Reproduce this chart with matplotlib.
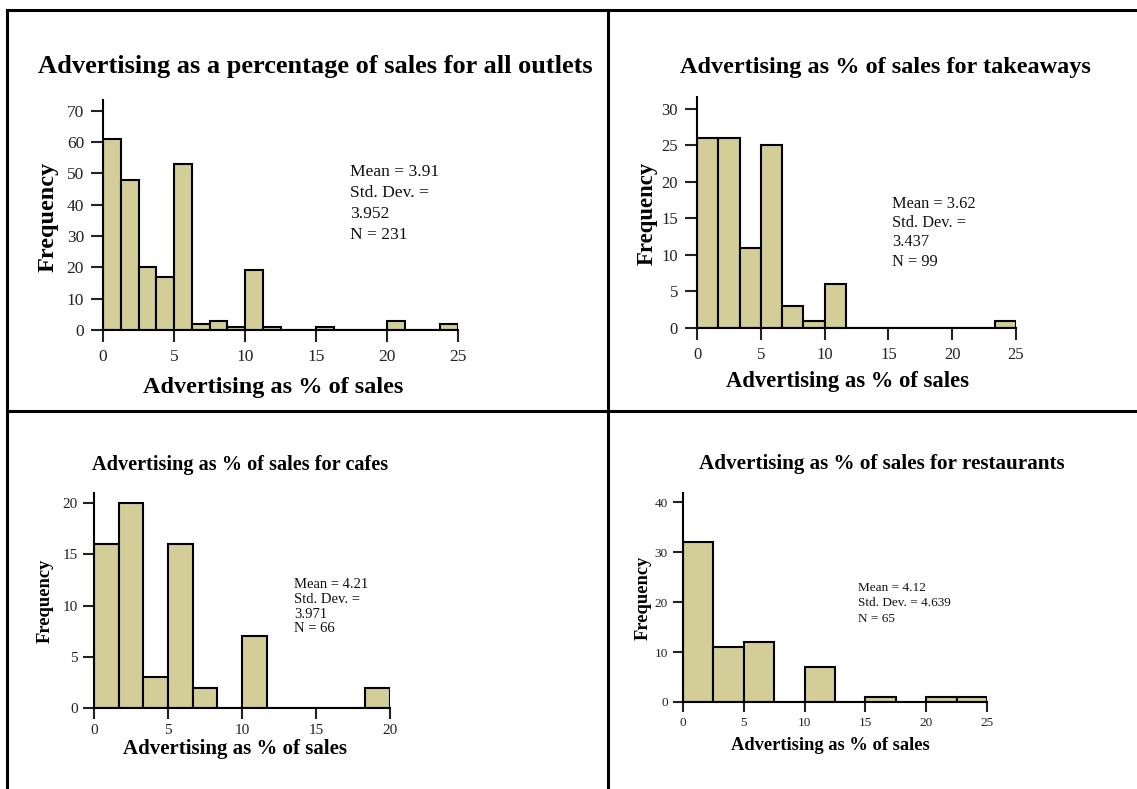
import matplotlib
matplotlib.use("Agg")
import matplotlib.pyplot as plt
import numpy as np

plt.rcParams['font.family'] = ['Liberation Serif', 'DejaVu Serif']

# bin counts
all_counts = [61, 48, 20, 17, 53, 2, 3, 1, 19, 1, 0, 0, 1, 0, 0, 0, 3, 0, 0, 2]
takeaway_counts = [26, 26, 11, 25, 3, 1, 6, 0, 0, 0, 0, 0, 0, 0, 1]
cafe_counts = [16, 20, 3, 16, 2, 0, 7, 0, 0, 0, 0, 2]
restaurant_counts = [32, 11, 12, 0, 7, 0, 1, 0, 1, 1]

x_max = [25, 25, 20, 25]
y_ticks = [[0, 10, 20, 30, 40, 50, 60, 70], [0, 5, 10, 15, 20, 25, 30],
           [0, 5, 10, 15, 20], [0, 10, 20, 30, 40]]
y_top = [73.4, 31.6, 21.0, 41.9]

titles = ["Advertising as a percentage of sales for all outlets",
          "Advertising as % of sales for takeaways",
          "Advertising as % of sales for cafes",
          "Advertising as % of sales for restaurants"]
stats = ["Mean = 3.91\nStd. Dev. =\n3.952\nN = 231",
         "Mean = 3.62\nStd. Dev. =\n3.437\nN = 99",
         "Mean = 4.21\nStd. Dev. =\n3.971\nN = 66",
         "Mean = 4.12\nStd. Dev. = 4.639\nN = 65"]

W, H = 1137, 789
fig = plt.figure(figsize=(W / 100, H / 100), dpi=100)


def fx(x):
    return x / W


def fy(y):
    return 1 - y / H


# panel layout in pixels: left, right, bottom, top
boxes = [(103, 458, 330, 100), (697, 1016, 328, 97),
         (94, 390, 708, 493), (683, 987, 702, 493)]
title_pos = [(315, 67, 19), (885, 67, 17.5), (240, 465, 14.6), (882, 464, 15.2)]
xlab_pos = [(273, 387, 17.5), (848, 381, 16.3), (235, 749, 15), (830, 745, 13.3)]
ylab_pos = [(48, 217, 17.5), (647, 213, 16.4), (45, 601, 13.3), (643, 598, 13.3)]
stat_pos = [(350, 164, 12.6, 1.42), (892, 196, 11.8, 1.27),
            (294, 578, 10.5, 1.18), (858, 582, 9.5, 1.38)]
tick_size = [12.5, 12, 11, 9.5]
tick_len = [8.6, 8.6, 7.7, 7]
tick_pad = [5, 5, 4, 4]

all_data = [all_counts, takeaway_counts, cafe_counts, restaurant_counts]

for i, counts in enumerate(all_data):
    l, r, b, t = boxes[i]
    ax = fig.add_axes([fx(l), fy(b), fx(r - l), fy(t) - fy(b)])
    edges = np.linspace(0, x_max[i], len(counts) + 1)
    ax.bar(edges[:-1], counts, width=np.diff(edges), align='edge',
           color='#d3ce98', edgecolor='black', linewidth=1.5, zorder=2)
    ax.set_xlim(0, x_max[i])
    ax.set_ylim(0, y_top[i])
    ax.set_xticks(np.arange(0, x_max[i] + 1, 5))
    ax.set_yticks(y_ticks[i])
    for s in ['top', 'right']:
        ax.spines[s].set_visible(False)
    for s in ['left', 'bottom']:
        ax.spines[s].set_linewidth(1.5)
    ax.tick_params(direction='out', length=tick_len[i], width=1.5,
                   labelsize=tick_size[i], colors='#222222', pad=tick_pad[i])
    ax.patch.set_alpha(0)

    x, y, s = title_pos[i]
    fig.text(fx(x), fy(y), titles[i], ha='center', va='center',
             fontsize=s, fontweight='bold')
    x, y, s = xlab_pos[i]
    fig.text(fx(x), fy(y), "Advertising as % of sales", ha='center',
             va='center', fontsize=s, fontweight='bold')
    x, y, s = ylab_pos[i]
    fig.text(fx(x), fy(y), "Frequency", ha='center', va='center',
             rotation=90, fontsize=s, fontweight='bold')
    x, y, s, ls = stat_pos[i]
    fig.text(fx(x), fy(y), stats[i], ha='left', va='top', fontsize=s,
             linespacing=ls, color='#111111')

# table-like frame around the panels
frame = dict(color='black', linewidth=2.2, transform=fig.transFigure)
fig.add_artist(plt.Line2D([fx(7), 1], [fy(10), fy(10)], **frame))
fig.add_artist(plt.Line2D([fx(7), 1], [fy(411), fy(411)], **frame))
fig.add_artist(plt.Line2D([fx(7), fx(7)], [fy(10), 0], **frame))
fig.add_artist(plt.Line2D([fx(608), fx(608)], [fy(10), 0], **frame))

fig.savefig("out.png", dpi=100)
